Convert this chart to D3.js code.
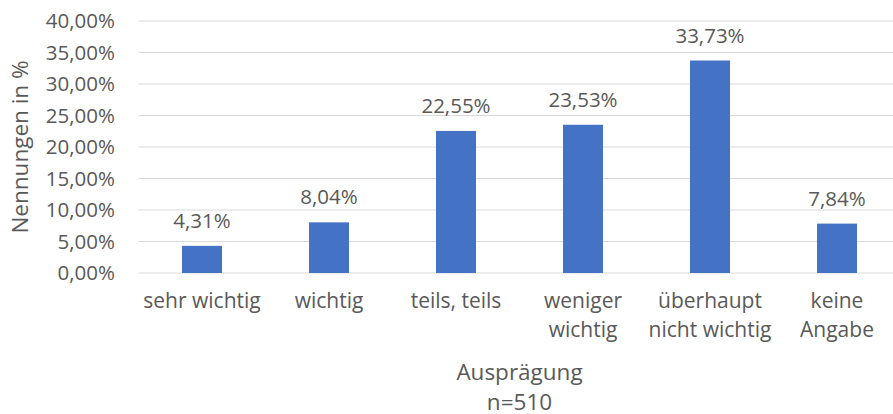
<!DOCTYPE html>
<html>
<head>
<meta charset="utf-8">
<script src="https://cdn.jsdelivr.net/npm/d3@7"></script>
<style>
  body { margin: 0; background: #fff; }
  text { font-family: "Open Sans", sans-serif; fill: #595959; }
</style>
</head>
<body>
<svg id="chart" width="893" height="414"></svg>
<script>
'use strict';
var categories = [['sehr wichtig'], ['wichtig'], ['teils, teils'], ['weniger', 'wichtig'], ['überhaupt', 'nicht wichtig'], ['keine', 'Angabe']];
var values = [4.31, 8.04, 22.55, 23.53, 33.73, 7.84];
var yTicks = [0, 5, 10, 15, 20, 25, 30, 35, 40];

var svg = d3.select('#chart');
var plotLeft = 138.5, plotRight = 900.5, plotTop = 21, plotBottom = 273;
var fmt = function(v){ return v.toFixed(2).replace('.', ',') + '%'; };

var x = d3.scaleBand().domain(d3.range(values.length)).range([plotLeft, plotRight]).paddingInner(0.685).paddingOuter(0.3425);
var y = d3.scaleLinear().domain([0, 40]).range([plotBottom, plotTop]);

// gridlines
svg.append('g').selectAll('line').data(yTicks).enter().append('line')
  .attr('x1', plotLeft).attr('x2', plotRight)
  .attr('y1', d => y(d)).attr('y2', d => y(d))
  .attr('stroke', '#d9d9d9').attr('stroke-width', 1);

// y tick labels
svg.append('g').selectAll('text').data(yTicks).enter().append('text')
  .attr('x', 115).attr('y', d => y(d) + 7)
  .attr('text-anchor', 'end')
  .style('font-size', '20.5px')
  .text(fmt);

// bars
svg.append('g').selectAll('rect').data(values).enter().append('rect')
  .attr('x', (d, i) => x(i)).attr('width', x.bandwidth())
  .attr('y', d => y(d)).attr('height', d => plotBottom - y(d))
  .attr('fill', '#4472c4');

// value labels
svg.append('g').selectAll('text').data(values).enter().append('text')
  .attr('x', (d, i) => x(i) + x.bandwidth() / 2).attr('y', d => y(d) - 18)
  .attr('text-anchor', 'middle')
  .style('font-size', '20.5px')
  .text(fmt);

// category labels
svg.append('g').selectAll('text').data(categories).enter().append('text')
  .attr('text-anchor', 'middle')
  .style('font-size', '21px')
  .each(function(d, i){
    var t = d3.select(this);
    d.forEach(function(line, j){
      t.append('tspan').attr('x', x(i) + x.bandwidth() / 2).attr('y', 308 + j * 29).text(line);
    });
  });

// axis titles
svg.append('text').attr('x', (plotLeft + plotRight) / 2).attr('y', 380)
  .attr('text-anchor', 'middle').style('font-size', '22.5px').text('Ausprägung');
svg.append('text').attr('x', (plotLeft + plotRight) / 2).attr('y', 410)
  .attr('text-anchor', 'middle').style('font-size', '22.5px').text('n=510');
svg.append('text').attr('transform', 'translate(28,' + ((plotTop + plotBottom) / 2) + ') rotate(-90)')
  .attr('text-anchor', 'middle').style('font-size', '22.5px').text('Nennungen in %');
</script>
</body>
</html>
